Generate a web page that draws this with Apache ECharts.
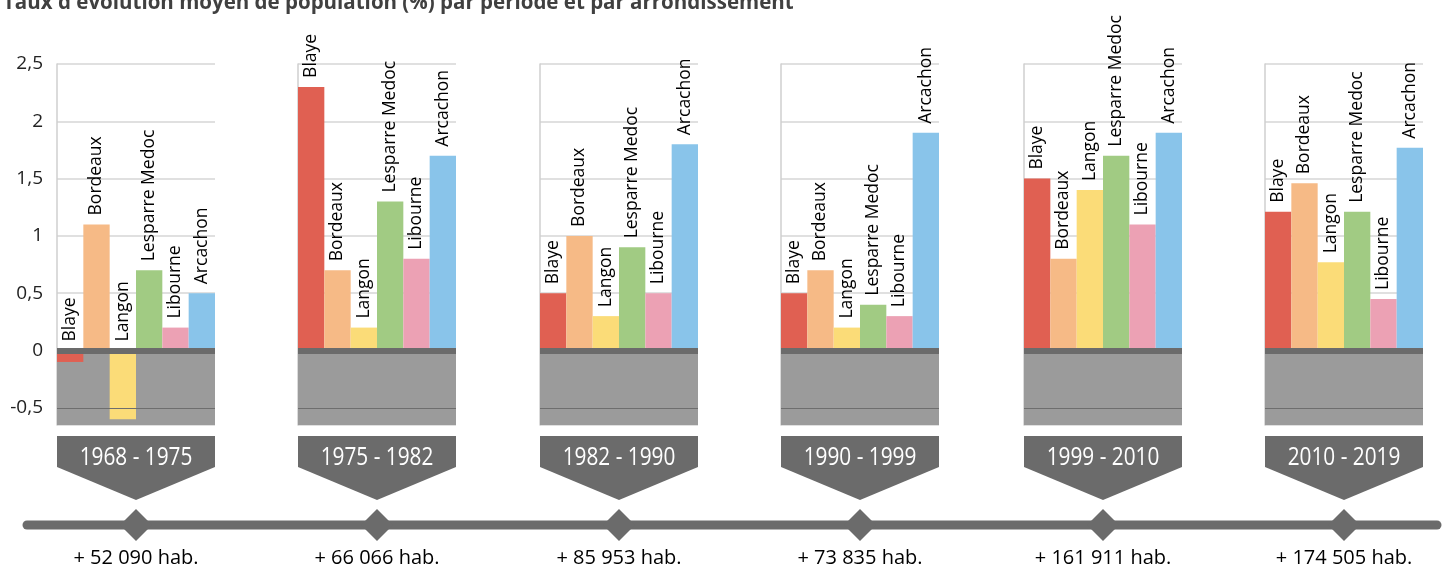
<!DOCTYPE html>
<html lang="fr">
<head>
  <meta charset="UTF-8">
  <title>Taux d'évolution moyen de population</title>
  <script src="https://cdn.jsdelivr.net/npm/echarts@6/dist/echarts.min.js"></script>
  <style>
    * { margin: 0; padding: 0; }
    body { background: #fff; }
    #chart { width: 1450px; height: 567px; }
  </style>
</head>
<body>
  <div id="chart"></div>
  <script>
    // donnees
    var villes = ['Blaye', 'Bordeaux', 'Langon', 'Lesparre Medoc', 'Libourne', 'Arcachon'];
    var periodes = ['1968 - 1975', '1975 - 1982', '1982 - 1990', '1990 - 1999', '1999 - 2010', '2010 - 2019'];
    var habitants = ['+ 52 090 hab.', '+ 66 066 hab.', '+ 85 953 hab.', '+ 73 835 hab.', '+ 161 911 hab.', '+ 174 505 hab.'];
    var taux1968 = [-0.1, 1.1, -0.6, 0.7, 0.2, 0.5];
    var taux1975 = [2.3, 0.7, 0.2, 1.3, 0.8, 1.7];
    var taux1982 = [0.5, 1.0, 0.3, 0.9, 0.5, 1.8];
    var taux1990 = [0.5, 0.7, 0.2, 0.4, 0.3, 1.9];
    var taux1999 = [1.5, 0.8, 1.4, 1.7, 1.1, 1.9];
    var taux2010 = [1.21, 1.46, 0.77, 1.21, 0.45, 1.77];
    var tauxParPeriode = [taux1968, taux1975, taux1982, taux1990, taux1999, taux2010];
    var yMin = -0.65, yMax = 2.5;

    // mise en page
    var couleurs = ['#e06052', '#f6ba86', '#fbdc78', '#a1cb83', '#eca1b4', '#89c4ea'];
    var gris = '#6b6b6b';
    var panelLeft = [57, 298, 540, 781, 1024, 1265];
    var panelW = 158;

    var chart = echarts.init(document.getElementById('chart'));
    var grids = [], xAxes = [], yAxes = [], series = [], graphics = [];

    panelLeft.forEach(function (left, i) {
      grids.push({ left: left, top: 64, width: panelW, height: 361 });
      xAxes.push({
        type: 'category', gridIndex: i, data: villes,
        axisLine: { show: false }, axisTick: { show: false }, axisLabel: { show: false }
      });
      yAxes.push({
        type: 'value', gridIndex: i, min: yMin, max: yMax, splitNumber: 6,
        axisLine: { show: true, lineStyle: { color: '#cfcfcf', width: 1.5 } },
        axisTick: { show: false },
        splitLine: { lineStyle: { color: '#d6d6d6', width: 1.5 } },
        axisLabel: {
          show: i === 0, showMinLabel: false, margin: 14,
          color: '#222', fontSize: 19, fontFamily: 'Open Sans',
          formatter: function (v) { return String(v).replace('.', ','); }
        }
      });
      // fond gris sous zero
      series.push({
        type: 'line', xAxisIndex: i, yAxisIndex: i, data: [], z: 1, silent: true,
        markArea: {
          silent: true, itemStyle: { color: '#9b9b9b' },
          data: [[{ yAxis: yMin }, { yAxis: 0 }]]
        }
      });
      series.push({
        type: 'line', xAxisIndex: i, yAxisIndex: i, data: [], z: 1.5, silent: true,
        markLine: {
          silent: true, symbol: 'none', label: { show: false },
          lineStyle: { color: '#6e6e6e', width: 1.2, type: 'solid' },
          data: [{ yAxis: -0.5 }]
        }
      });
      series.push({
        type: 'bar', xAxisIndex: i, yAxisIndex: i, z: 2,
        barCategoryGap: '0%',
        data: tauxParPeriode[i].map(function (v, j) {
          return { value: v, itemStyle: { color: couleurs[j] } };
        }),
        label: {
          show: true, position: 'top', distance: 9, rotate: 90,
          align: 'left', verticalAlign: 'middle',
          formatter: '{b}', color: '#000', fontSize: 17.5, fontFamily: 'Open Sans'
        }
      });
      series.push({
        type: 'line', xAxisIndex: i, yAxisIndex: i, data: [], z: 3, silent: true,
        markLine: {
          silent: true, symbol: 'none', label: { show: false },
          lineStyle: { color: gris, width: 6, type: 'solid' },
          data: [{ yAxis: 0 }]
        }
      });

      var cx = left + panelW / 2;
      var x1 = left + panelW;
      graphics.push({
        type: 'polygon',
        shape: { points: [[left, 436], [x1, 436], [x1, 467], [cx, 500], [left, 467]] },
        style: { fill: gris }
      });
      // texte condense
      graphics.push({
        type: 'text', x: cx, y: 458, scaleX: 0.8,
        style: {
          text: periodes[i], fill: '#fff', font: '26px "Open Sans"',
          textAlign: 'center', textVerticalAlign: 'middle'
        }
      });
      graphics.push({
        type: 'polygon', z: 10,
        shape: { points: [[cx, 509], [cx + 16, 525], [cx, 541], [cx - 16, 525]] },
        style: { fill: gris }
      });
      graphics.push({
        type: 'text', x: cx, y: 558,
        style: {
          text: habitants[i], fill: '#000', font: '20px "Open Sans"',
          textAlign: 'center', textVerticalAlign: 'middle'
        }
      });
    });

    graphics.unshift({
      type: 'line', z: 5,
      shape: { x1: 27, y1: 525, x2: 1437, y2: 525 },
      style: { stroke: gris, lineWidth: 9, lineCap: 'round' }
    });

    chart.setOption({
      animation: false,
      title: {
        text: "Taux d'évolution moyen de population (%) par période et par arrondissement",
        left: 3, top: -7, padding: 0,
        textStyle: { fontSize: 20.5, fontWeight: 'bold', color: '#404040', fontFamily: 'Open Sans' }
      },
      grid: grids,
      xAxis: xAxes,
      yAxis: yAxes,
      series: series,
      graphic: graphics
    });
  </script>
</body>
</html>
